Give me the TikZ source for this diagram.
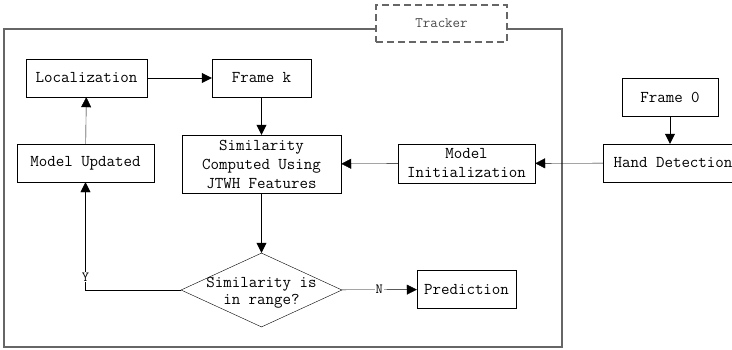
\documentclass[tikz,border=0pt]{standalone}
\usepackage{fontspec}
\usepackage{tikz}
\usetikzlibrary{arrows.meta,shapes.geometric}
\newcommand{\boxfont}{\ttfamily}

\begin{document}
\begin{tikzpicture}[x=1pt, y=-1pt,
  box/.style={draw, align=center, inner sep=0pt, font=\boxfont\fontsize{16.5}{19}\selectfont,
              minimum height=38pt, minimum width=#1},
  box/.default=100pt,
  dia/.style={draw, diamond, inner sep=0pt, minimum width=161pt, minimum height=74pt},
  frm/.style={draw=black!60, line width=1.2pt},
  lbl/.style={font=\boxfont\fontsize{14}{14}\selectfont, fill=white, inner sep=1pt},
  >={Triangle[length=10pt, width=10pt]}]
  \clip (0,0) rectangle (732,349);
  % tracker frame
  \draw[frm] (4,29) rectangle (562,347);
  \node[frm, dash pattern=on 7pt off 4pt, fill=white, minimum width=131pt, minimum height=37pt,
        text=black!70, font=\boxfont\fontsize{14.5}{16}\selectfont] (tracker) at (441.5,23.5) {Tracker};
  % row 1
  \node[box=121pt] (loc)    at (86.5,78)  {Localization};
  \node[box=99pt]  (framek) at (261.5,78) {Frame k};
  \node[box=96pt]  (frame0) at (670,97)   {Frame 0};
  % row 2
  \node[box=137pt] (mupd)   at (85.5,163)  {Model Updated};
  \node[box=159pt, minimum height=58pt] (sim) at (261.5,164) {Similarity\\Computed Using\\JTWH Features};
  \node[box=137pt, minimum height=39pt] (minit) at (466.5,163.5) {Model\\Initialization};
  \node[box=140pt] (hand)   at (673,163)   {Hand Detection};
  % row 3
  \node[dia] (chk) at (261.5,290) {};
  \node[font=\boxfont\fontsize{16.5}{17}\selectfont, align=center] (chktxt) at (261.5,293) {Similarity is\\in range?};
  \node[box=99pt] (pred) at (466.5,289.5) {Prediction};
  \draw[->] (loc) -- (framek);
  \draw[->] (framek) -- (sim);
  \draw[->] (frame0) -- (frame0 |- hand.north);
  \draw[->] (hand) -- (minit);
  \draw[->] (minit) -- (sim);
  \draw[->] (sim) -- (chk);
  \draw[->] (chk) -- node[lbl] {N} (pred);
  \draw[->] (chk.west) -| node[lbl, pos=0.56] {Y} (mupd);
  \draw[->] (mupd) -- (loc);
\end{tikzpicture}
\end{document}
